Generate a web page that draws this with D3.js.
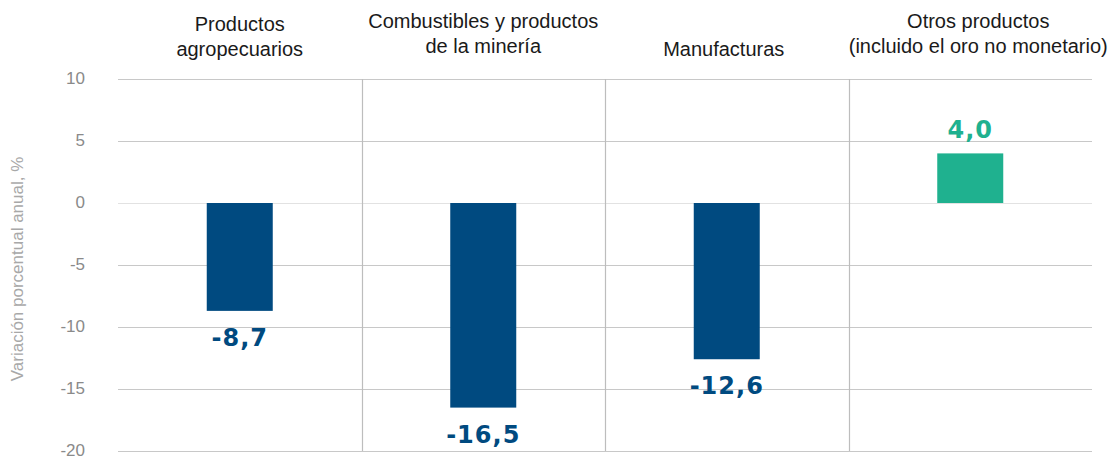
<!DOCTYPE html>
<html>
<head>
<meta charset="utf-8">
<script src="https://cdn.jsdelivr.net/npm/d3@7"></script>
<style>
  html, body { margin: 0; padding: 0; background: #fff; }
  svg { display: block; }
</style>
</head>
<body>
<svg id="chart" width="1115" height="456"></svg>
<script>
// Exportaciones por grupo de productos: variación porcentual anual
const categories = [
  ["Productos", "agropecuarios"],
  ["Combustibles y productos", "de la minería"],
  ["Manufacturas"],
  ["Otros productos", "(incluido el oro no monetario)"]
];
const values = [-8.7, -16.5, -12.6, 4.0];
const valueLabels = ["-8,7", "-16,5", "-12,6", "4,0"];
const yTicks = [10, 5, 0, -5, -10, -15, -20];
const yTitle = "Variación porcentual anual, %";

const width = 1115, height = 456;
const margin = { left: 118, right: 23, top: 79, bottom: 5 };
const svg = d3.select("#chart");

const x = d3.scaleBand()
  .domain(d3.range(categories.length))
  .range([margin.left, width - margin.right])
  .paddingInner(0)
  .paddingOuter(0);

const y = d3.scaleLinear()
  .domain([-20, 10])
  .range([451, 79]);

const blue = "#004a80", green = "#1fb18f";
const barW = 66;

// horizontal gridlines
svg.append("g")
  .selectAll("line")
  .data(yTicks)
  .join("line")
  .attr("x1", margin.left)
  .attr("x2", width - margin.right)
  .attr("y1", d => Math.round(y(d)) + 0.5)
  .attr("y2", d => Math.round(y(d)) + 0.5)
  .attr("stroke", d => d === 0 ? "#e2e2e2" : "#c8c8c8")
  .attr("stroke-width", 1.2);

// vertical separators between groups
svg.append("g")
  .selectAll("line")
  .data(d3.range(1, categories.length))
  .join("line")
  .attr("x1", d => Math.round(x(d)) + 0.5)
  .attr("x2", d => Math.round(x(d)) + 0.5)
  .attr("y1", y(10))
  .attr("y2", y(-20))
  .attr("stroke", "#bdbdbd")
  .attr("stroke-width", 1.2);

// y axis tick labels (plain hyphen for negatives)
const yAxis = d3.axisLeft(y).tickValues(yTicks).tickSize(0).tickPadding(0)
  .tickFormat(d => String(d));
const ay = svg.append("g")
  .attr("transform", "translate(85,0)")
  .call(yAxis);
ay.select(".domain").remove();
ay.selectAll("text")
  .attr("font-family", "Liberation Sans, Arial, sans-serif")
  .attr("font-size", 17)
  .attr("fill", "#8a8a8a")
  .attr("dy", "0.27em");

// y axis title
svg.append("text")
  .attr("transform", `translate(23,${(y(10) + y(-20)) / 2 + 4}) rotate(-90)`)
  .attr("text-anchor", "middle")
  .attr("font-family", "Liberation Sans, Arial, sans-serif")
  .attr("font-size", 17)
  .attr("fill", "#a8a8a8")
  .text(yTitle);

// bars
const cx = i => x(i) + x.bandwidth() / 2;
svg.append("g")
  .selectAll("rect")
  .data(values)
  .join("rect")
  .attr("x", (d, i) => cx(i) - barW / 2)
  .attr("width", barW)
  .attr("y", d => y(Math.max(0, d)))
  .attr("height", d => Math.abs(y(d) - y(0)))
  .attr("fill", d => d < 0 ? blue : green);

// value labels
svg.append("g")
  .selectAll("text")
  .data(values)
  .join("text")
  .attr("x", (d, i) => cx(i))
  .attr("y", d => d < 0 ? y(d) + 35 : y(d) - 15)
  .attr("text-anchor", "middle")
  .attr("font-family", "DejaVu Sans, sans-serif")
  .attr("font-weight", "bold")
  .attr("font-size", 24)
  .attr("letter-spacing", "1px")
  .attr("fill", d => d < 0 ? blue : green)
  .text((d, i) => valueLabels[i]);

// category headers
const headerBase = [31, 28, 31, 28];
const hdr = svg.append("g")
  .selectAll("text")
  .data(categories)
  .join("text")
  .attr("text-anchor", "middle")
  .attr("font-family", "Liberation Sans, Arial, sans-serif")
  .attr("font-size", 20)
  .attr("fill", "#1a1a1a");
hdr.each(function (lines, i) {
  const t = d3.select(this);
  const offset = lines.length === 1 ? 1 : 0;
  lines.forEach((ln, k) => {
    t.append("tspan")
      .attr("x", cx(i) + (i === 3 ? 8 : 0) - (i === 2 ? 3 : 0))
      .attr("y", headerBase[i] + (k + offset) * 25)
      .text(ln);
  });
});
</script>
</body>
</html>
